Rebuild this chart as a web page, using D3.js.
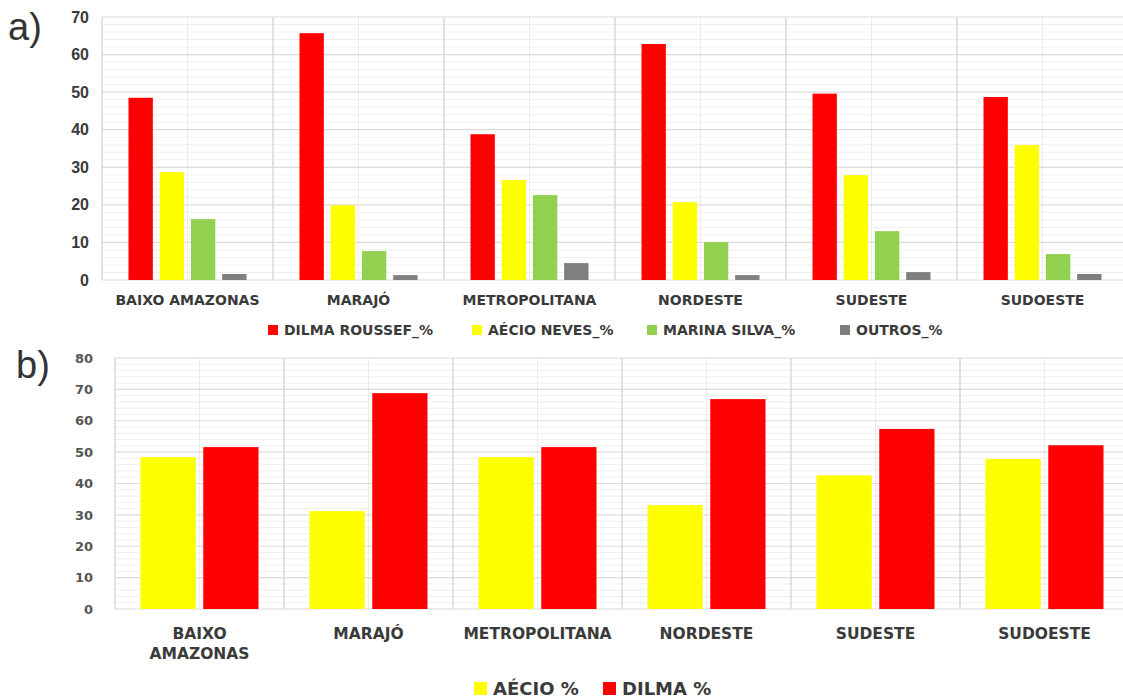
<!DOCTYPE html>
<html>
<head>
<meta charset="utf-8">
<script src="https://cdn.jsdelivr.net/npm/d3@7"></script>
<style>
  html, body { margin: 0; padding: 0; background: #fff; }
  svg { display: block; }
  .cat { font-family: "DejaVu Sans", Verdana, sans-serif; font-weight: 700; fill: #3a3a3a; }
</style>
</head>
<body>
<svg id="chart" width="1123" height="699"></svg>
<script>
// Regions of Pará
const regions = ["BAIXO AMAZONAS", "MARAJÓ", "METROPOLITANA", "NORDESTE", "SUDESTE", "SUDOESTE"];

// a) first round, vote share (%)
const firstRoundSeries = ["DILMA ROUSSEF_%", "AÉCIO NEVES_%", "MARINA SILVA_%", "OUTROS_%"];
const dilma1 = [48.5, 65.7, 38.8, 62.8, 49.6, 48.7];
const aecio1 = [28.7, 19.9, 26.6, 20.7, 27.9, 35.9];
const marina1 = [16.2, 7.7, 22.6, 10.1, 13.0, 6.9];
const outros1 = [1.6, 1.3, 4.5, 1.3, 2.1, 1.6];
const ticksA = [0, 10, 20, 30, 40, 50, 60, 70];

// b) second round, vote share (%)
const secondRoundSeries = ["AÉCIO %", "DILMA %"];
const aecio2 = [48.4, 31.2, 48.4, 33.1, 42.6, 47.8];
const dilma2 = [51.6, 68.8, 51.6, 66.9, 57.4, 52.2];
const ticksB = [0, 10, 20, 30, 40, 50, 60, 70, 80];

const RED = "#ff0000", YELLOW = "#ffff00", GREEN = "#92d050", GRAY = "#7f7f7f";

const svg = d3.select("#chart");

function panel(opts) {
  const g = svg.append("g");
  const x = d3.scaleBand().domain(regions).range([opts.x0, opts.x1]).paddingInner(0).paddingOuter(0);
  const y = d3.scaleLinear().domain([0, opts.max]).range([opts.y0, opts.y1]);

  // minor horizontal grid
  g.append("g").selectAll("line")
    .data(d3.range(0, opts.max + 0.001, 2).filter(v => v % 10 !== 0))
    .join("line")
    .attr("x1", opts.x0).attr("x2", opts.x1)
    .attr("y1", d => y(d)).attr("y2", d => y(d))
    .attr("stroke", "#efefef").attr("stroke-width", 1);

  // minor vertical grid at category centres
  g.append("g").selectAll("line").data(regions).join("line")
    .attr("x1", d => x(d) + x.bandwidth() / 2).attr("x2", d => x(d) + x.bandwidth() / 2)
    .attr("y1", y(0)).attr("y2", y(opts.max))
    .attr("stroke", "#ececec").attr("stroke-width", 1);

  // major horizontal grid
  g.append("g").selectAll("line").data(opts.ticks).join("line")
    .attr("x1", opts.x0).attr("x2", opts.x1)
    .attr("y1", d => y(d)).attr("y2", d => y(d))
    .attr("stroke", "#dcdcdc").attr("stroke-width", 1.2);

  // major vertical grid at category boundaries
  g.append("g").selectAll("line").data(regions).join("line")
    .attr("x1", d => x(d)).attr("x2", d => x(d))
    .attr("y1", y(0)).attr("y2", y(opts.max))
    .attr("stroke", "#d6d6d6").attr("stroke-width", 1.4);

  // y axis labels
  const ax = d3.axisLeft(y).tickValues(opts.ticks).tickSize(0).tickPadding(opts.tickPad);
  const axg = g.append("g").attr("transform", `translate(${opts.x0},0)`).call(ax);
  axg.select(".domain").remove();
  axg.selectAll("text")
    .attr("font-family", opts.tickFont)
    .attr("font-size", opts.tickSize)
    .attr("font-weight", 700)
    .attr("fill", opts.tickFill);

  // bars
  const inner = d3.scaleBand().domain(opts.series.map((s, i) => i))
    .range([0, opts.groupWidth]).paddingInner(opts.innerPad);
  opts.series.forEach((s, i) => {
    g.append("g").selectAll("rect").data(regions).join("rect")
      .attr("x", (d) => x(d) + (x.bandwidth() - opts.groupWidth) / 2 + inner(i))
      .attr("width", inner.bandwidth())
      .attr("y", (d, j) => y(s.values[j]))
      .attr("height", (d, j) => y(0) - y(s.values[j]))
      .attr("fill", s.color);
  });

  // category labels
  const lab = g.append("g").selectAll("text").data(regions).join("text")
    .attr("class", "cat")
    .attr("text-anchor", "middle")
    .attr("font-size", opts.catSize)
    .attr("x", d => x(d) + x.bandwidth() / 2)
    .attr("y", opts.catY);
  lab.each(function(d) {
    const lines = opts.wrap && d.includes(" ") ? d.split(" ") : [d];
    const t = d3.select(this);
    lines.forEach((ln, k) => t.append("tspan").attr("x", t.attr("x")).attr("dy", k === 0 ? 0 : opts.catLine).text(ln));
  });

  // legend
  const leg = g.append("g");
  opts.series.forEach((s, i) => {
    const lx = opts.legendX[i];
    leg.append("rect").attr("x", lx).attr("y", opts.legendY - opts.legendBox)
      .attr("width", opts.legendBox).attr("height", opts.legendBox).attr("fill", s.color);
    leg.append("text").attr("class", "cat")
      .attr("x", lx + opts.legendBox + opts.legendGap).attr("y", opts.legendY)
      .attr("font-size", opts.legendSize).attr("fill", opts.legendFill)
      .text(s.name);
  });

  // panel letter
  svg.append("text").attr("x", opts.letterX).attr("y", opts.letterY)
    .attr("font-family", "Liberation Sans, Arial, sans-serif")
    .attr("font-size", 38).attr("fill", "#333").text(opts.letter);
}

panel({
  letter: "a)", letterX: 8, letterY: 40,
  x0: 102, x1: 1128, y0: 280, y1: 17, max: 70, ticks: ticksA,
  tickPad: 13, tickSize: 16, tickFont: "Liberation Sans, Arial, sans-serif", tickFill: "#3a3a3a",
  series: [
    { name: firstRoundSeries[0], values: dilma1, color: RED },
    { name: firstRoundSeries[1], values: aecio1, color: YELLOW },
    { name: firstRoundSeries[2], values: marina1, color: GREEN },
    { name: firstRoundSeries[3], values: outros1, color: GRAY }
  ],
  groupWidth: 118, innerPad: 0.22,
  catY: 305, catSize: 14, wrap: false, catLine: 0,
  legendX: [268, 472, 647, 840], legendY: 335, legendBox: 10, legendGap: 6,
  legendSize: 14, legendFill: "#333"
});

panel({
  letter: "b)", letterX: 16, letterY: 378,
  x0: 115, x1: 1129, y0: 609, y1: 358, max: 80, ticks: ticksB,
  tickPad: 22, tickSize: 13, tickFont: "DejaVu Sans, Verdana, sans-serif", tickFill: "#555",
  series: [
    { name: secondRoundSeries[0], values: aecio2, color: YELLOW },
    { name: secondRoundSeries[1], values: dilma2, color: RED }
  ],
  groupWidth: 118, innerPad: 0.12,
  catY: 639, catSize: 15.5, wrap: true, catLine: 20,
  legendX: [474, 603], legendY: 695, legendBox: 13, legendGap: 6,
  legendSize: 18, legendFill: "#222"
});
</script>
</body>
</html>
